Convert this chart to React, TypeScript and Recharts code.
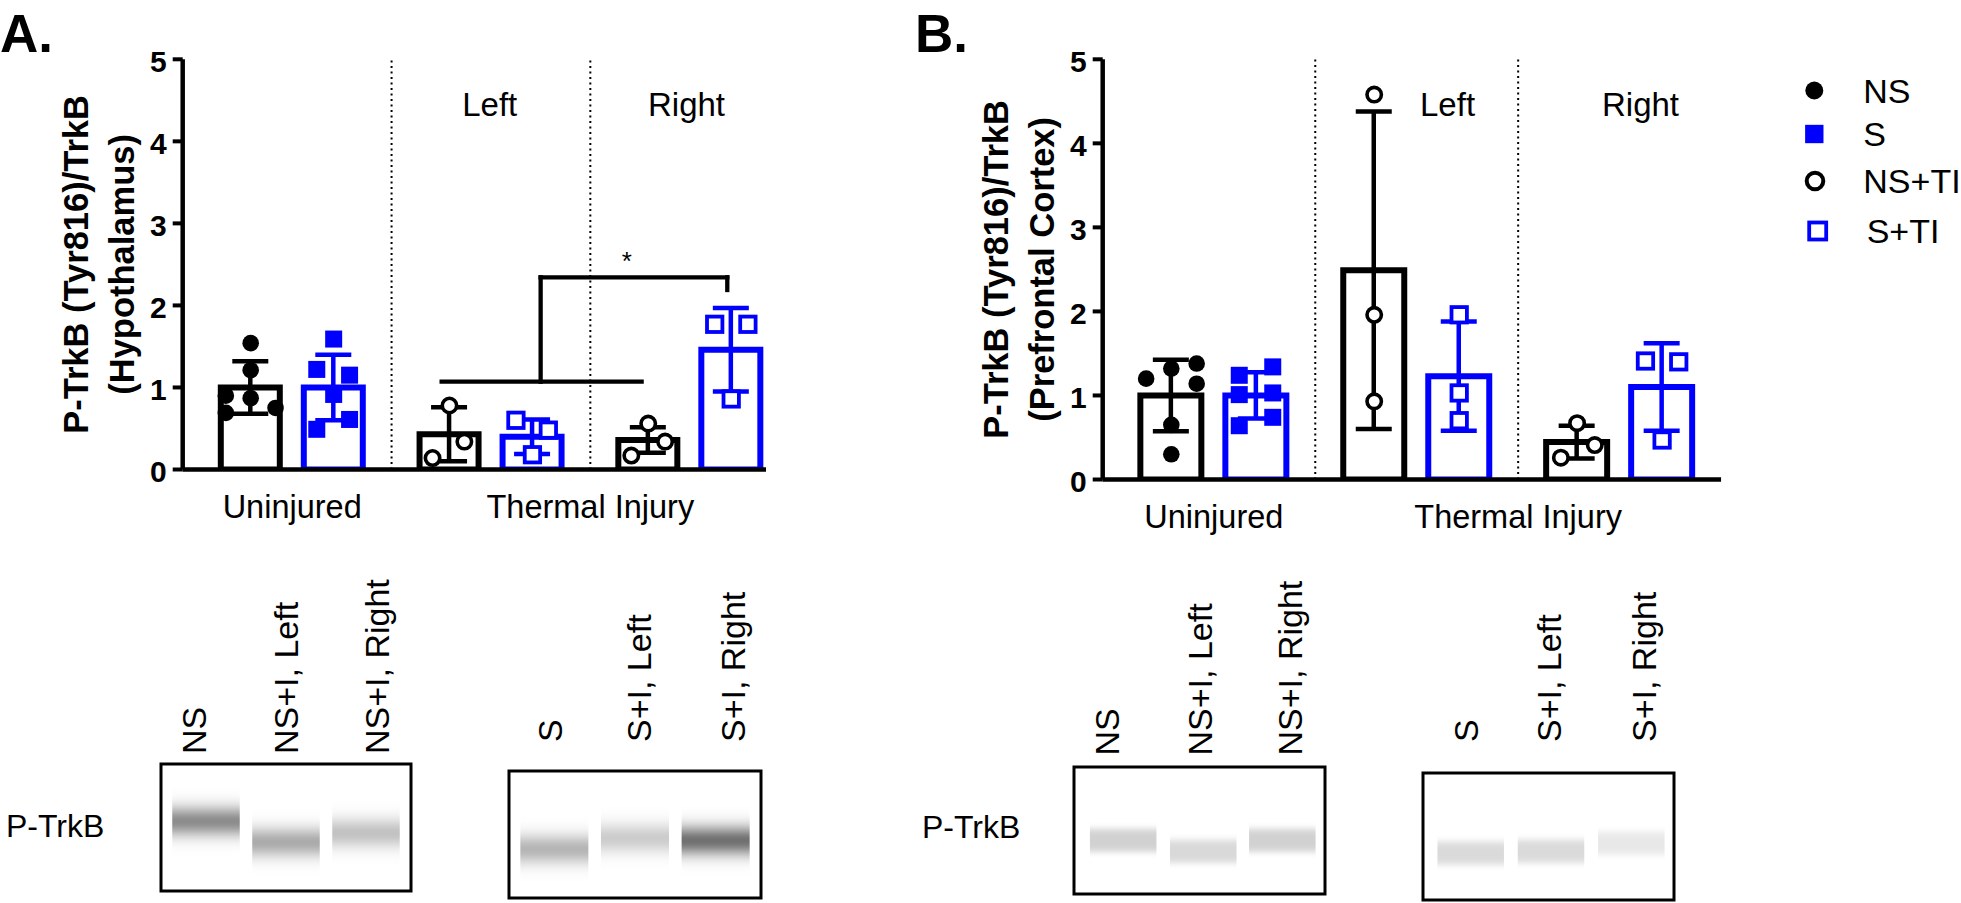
import React from 'react'
import {
  Bar,
  ComposedChart,
  ErrorBar,
  Label,
  ReferenceDot,
  ReferenceLine,
  Scatter,
  XAxis,
  YAxis,
} from 'recharts'

// Two Prism-style bar panels (mean ± SD with individual points) plus the
// capillary-western lane images underneath. Everything is absolutely placed
// on a 1961x903 page.

const FONT = '"Liberation Sans", Arial, Helvetica, sans-serif'
const BLACK = '#000000'
const BLUE = '#0000ff'

// x groups (bar pair i sits at x = i + 0.5)
const GROUPS = ['Uninjured', 'Left', 'Right']
const X_TICKS = [0.5, 2]
const X_TICK_LABELS = ['Uninjured', 'Thermal Injury']
const Y_TICKS = [0, 1, 2, 3, 4, 5]

// A. hypothalamus — black = NS / NS+TI, blue = S / S+TI
const HYPO_NS_MEAN = [1.0, 0.43, 0.36]
const HYPO_NS_SD = [0.32, 0.33, 0.155]
const HYPO_S_MEAN = [1.0, 0.4, 1.46]
const HYPO_S_SD = [0.4, 0.21, 0.51]
const HYPO_NS_POINTS = [[1.54, 1.21, 0.9, 0.87, 0.69, 0.75], [0.78, 0.34, 0.14], [0.56, 0.34, 0.17]]
const HYPO_S_POINTS = [[1.59, 1.22, 1.15, 0.915, 0.49, 0.61], [0.6, 0.48, 0.18], [1.77, 1.77, 0.86]]
// sideways scatter of each point within its bar, in x units
const HYPO_NS_JITTER = [[0, 0, -0.125, 0, -0.125, 0.125], [0, 0.075, -0.085], [0, 0.085, -0.085]]
const HYPO_S_JITTER = [[0, -0.085, 0.08, 0, -0.085, 0.08], [-0.083, 0.08, 0], [-0.083, 0.084, 0]]

// B. prefrontal cortex
const PFC_NS_MEAN = [1.0, 2.49, 0.445]
const PFC_NS_SD = [0.425, 1.89, 0.195]
const PFC_S_MEAN = [1.0, 1.23, 1.1]
const PFC_S_SD = [0.275, 0.65, 0.52]
const PFC_NS_POINTS = [[1.32, 1.2, 1.38, 1.14, 0.65, 0.3], [4.58, 1.96, 0.93], [0.67, 0.41, 0.26]]
const PFC_S_POINTS = [[1.24, 1.34, 1.01, 1.03, 0.64, 0.74], [1.96, 1.03, 0.7], [1.41, 1.4, 0.47]]
const PFC_NS_JITTER = [[0, -0.124, 0.125, 0.125, 0, 0], [0, 0, 0], [0, 0.087, -0.08]]
const PFC_S_JITTER = [[-0.084, 0.081, -0.084, 0.081, -0.084, 0.081], [0, 0, 0], [-0.082, 0.082, 0]]

// significance bracket in A (NS+TI left/right vs S+TI right)
const HYPO_BRACKET = [
  [{ x: 1.252, y: 1.07 }, { x: 2.258, y: 1.07 }],
  [{ x: 1.75, y: 1.07 }, { x: 1.75, y: 2.343 }],
  [{ x: 1.75, y: 2.343 }, { x: 2.689, y: 2.343 }],
  [{ x: 2.689, y: 2.343 }, { x: 2.689, y: 2.188 }],
]

const LEGEND_LABELS = ['NS', 'S', 'NS+TI', 'S+TI']
const LEGEND_KINDS = ['ns', 's', 'nsti', 'sti']

// lane images: label per lane, band centre (fraction of box height), band darkness
const HYPO_BLOT_NS = { lanes: ['NS', 'NS+I, Left', 'NS+I, Right'], bandY: [0.45, 0.62, 0.545], depth: [0.45, 0.33, 0.24] }
const HYPO_BLOT_S = { lanes: ['S', 'S+I, Left', 'S+I, Right'], bandY: [0.62, 0.53, 0.55], depth: [0.29, 0.2, 0.56] }
const PFC_BLOT_NS = { lanes: ['NS', 'NS+I, Left', 'NS+I, Right'], bandY: [0.58, 0.67, 0.58], depth: [0.18, 0.15, 0.18] }
const PFC_BLOT_S = { lanes: ['S', 'S+I, Left', 'S+I, Right'], bandY: [0.635, 0.62, 0.555], depth: [0.145, 0.145, 0.09] }

function Marker({ kind, cx, cy, big = false }: { kind: string; cx: number; cy: number; big?: boolean }) {
  const k = big ? 1.08 : 1
  switch (kind) {
    case 'ns':
      return <circle cx={cx} cy={cy} r={8.3 * k} fill={BLACK} />
    case 's':
      return <rect x={cx - 8.5 * k} y={cy - 8.5 * k} width={17 * k} height={17 * k} fill={BLUE} />
    case 'nsti':
      return <circle cx={cx} cy={cy} r={big ? 8.3 : 7.2} fill="#fff" stroke={BLACK} strokeWidth={big ? 4 : 3.6} />
    default:
      return (
        <rect
          x={cx - (big ? 8.5 : 7.7)}
          y={cy - (big ? 8.5 : 7.7)}
          width={big ? 17 : 15.4}
          height={big ? 17 : 15.4}
          fill="#fff"
          stroke={BLUE}
          strokeWidth={3.8}
        />
      )
  }
}

interface PanelProps {
  left: number
  width: number
  height: number
  plotLeft: number
  plotTop: number
  plotBottom: number
  plotRight: number
  domain: [number, number]
  barSize: number
  barGap: number
  unitPx: number
  nsMean: number[]
  nsSd: number[]
  sMean: number[]
  sSd: number[]
  nsPoints: number[][]
  sPoints: number[][]
  nsJitter: number[][]
  sJitter: number[][]
  yLabel: string[]
  sideLabels: { text: string; x: number; y: number }[]
  bracket?: { x: number; y: number }[][]
  star?: { x: number; y: number }
}

function Panel(p: PanelProps) {
  const rows = GROUPS.map((g, i) => ({
    x: i + 0.5,
    group: g,
    ns: p.nsMean[i],
    nsErr: p.nsSd[i],
    s: p.sMean[i],
    sErr: p.sSd[i],
  }))
  const half = (p.barSize + p.barGap) / 2 / p.unitPx
  const spread = (vals: number[][], jit: number[][], side: number, groups: number[]) =>
    groups.flatMap((g) => vals[g].map((y, j) => ({ x: g + 0.5 + side * half + jit[g][j], y })))

  const nsPts = spread(p.nsPoints, p.nsJitter, -1, [0])
  const sPts = spread(p.sPoints, p.sJitter, 1, [0])
  const nstiPts = spread(p.nsPoints, p.nsJitter, -1, [1, 2])
  const stiPts = spread(p.sPoints, p.sJitter, 1, [1, 2])

  const xAxisH = 60
  const midY = (p.plotTop + p.plotBottom) / 2

  const yTitle = () => (
    <g>
      {p.yLabel.map((line, i) => (
        <text
          key={line}
          transform={`translate(${p.plotLeft - 95.2 + i * 46}, ${midY}) rotate(-90)`}
          textAnchor="middle"
          fontFamily={FONT}
          fontWeight="bold"
          fontSize={34.5}
          fill={BLACK}
        >
          {line}
        </text>
      ))}
    </g>
  )

  return (
    <div style={{ position: 'absolute', left: p.left, top: 0, width: p.width, height: p.height }}>
      <ComposedChart
        width={p.width}
        height={p.height}
        data={rows}
        barGap={p.barGap}
        margin={{ top: p.plotTop, right: p.width - p.plotRight, bottom: p.height - p.plotBottom - xAxisH, left: 2 }}
      >
        <XAxis
          dataKey="x"
          type="number"
          domain={p.domain}
          allowDataOverflow
          ticks={X_TICKS}
          interval={0}
          height={xAxisH}
          tickLine={false}
          tickSize={0}
          axisLine={{ stroke: BLACK, strokeWidth: 4.5 }}
          tick={(t: any) => (
            <text
              x={t.x}
              y={p.plotBottom + 48.8}
              textAnchor="middle"
              fontFamily={FONT}
              fontSize={32.5}
              fill={BLACK}
            >
              {X_TICK_LABELS[X_TICKS.indexOf(t.payload.value)]}
            </text>
          )}
        />
        <XAxis xAxisId="pts" dataKey="x" type="number" domain={p.domain} allowDataOverflow hide />
        <YAxis
          type="number"
          domain={[0, 5]}
          allowDataOverflow
          ticks={Y_TICKS}
          interval={0}
          width={p.plotLeft - 2}
          tickSize={10}
          tickLine={{ stroke: BLACK, strokeWidth: 4 }}
          axisLine={{ stroke: BLACK, strokeWidth: 4.5 }}
          tick={(t: any) => (
            <text
              x={p.plotLeft - 16}
              y={t.y + 12.4}
              textAnchor="end"
              fontFamily={FONT}
              fontWeight="bold"
              fontSize={30}
              fill={BLACK}
            >
              {t.payload.value}
            </text>
          )}
        >
          <Label content={yTitle} />
        </YAxis>

        <ReferenceLine x={1} stroke={BLACK} strokeWidth={2} strokeDasharray="2 3.5" />
        <ReferenceLine x={2} stroke={BLACK} strokeWidth={2} strokeDasharray="2 3.5" />

        <Bar dataKey="ns" barSize={p.barSize} fill="#fff" stroke={BLACK} strokeWidth={6} isAnimationActive={false}>
          <ErrorBar dataKey="nsErr" width={18} stroke={BLACK} strokeWidth={4.5} direction="y" />
        </Bar>
        <Bar dataKey="s" barSize={p.barSize} fill="#fff" stroke={BLUE} strokeWidth={6} isAnimationActive={false}>
          <ErrorBar dataKey="sErr" width={18} stroke={BLUE} strokeWidth={4.5} direction="y" />
        </Bar>

        <Scatter xAxisId="pts" data={nsPts} dataKey="y" isAnimationActive={false}
          shape={(s: any) => <Marker kind="ns" cx={s.cx} cy={s.cy} />} />
        <Scatter xAxisId="pts" data={sPts} dataKey="y" isAnimationActive={false}
          shape={(s: any) => <Marker kind="s" cx={s.cx} cy={s.cy} />} />
        <Scatter xAxisId="pts" data={nstiPts} dataKey="y" isAnimationActive={false}
          shape={(s: any) => <Marker kind="nsti" cx={s.cx} cy={s.cy} />} />
        <Scatter xAxisId="pts" data={stiPts} dataKey="y" isAnimationActive={false}
          shape={(s: any) => <Marker kind="sti" cx={s.cx} cy={s.cy} />} />

        {(p.bracket ?? []).map((seg, i) => (
          <ReferenceLine key={i} segment={seg} stroke={BLACK} strokeWidth={4.3} strokeLinecap="square" />
        ))}

        {p.sideLabels.map((l) => (
          <ReferenceDot
            key={l.text}
            x={l.x}
            y={l.y}
            r={0}
            ifOverflow="visible"
            shape={(d: any) => (
              <text x={d.cx} y={d.cy} textAnchor="middle" fontFamily={FONT} fontSize={33} fill={BLACK}>
                {l.text}
              </text>
            )}
          />
        ))}
        {p.star && (
          <ReferenceDot
            x={p.star.x}
            y={p.star.y}
            r={0}
            ifOverflow="visible"
            shape={(d: any) => (
              <text x={d.cx} y={d.cy} textAnchor="middle" fontFamily={FONT} fontSize={26} fill={BLACK}>
                *
              </text>
            )}
          />
        )}
      </ComposedChart>
    </div>
  )
}

// ---- lane images ----------------------------------------------------------

function bandStops(center: number, sigma: number, depth: number, flat: boolean) {
  const out = []
  for (let i = 0; i <= 60; i++) {
    const t = i / 60
    const d = Math.abs(t - center) / sigma
    const a = depth * Math.exp(-Math.pow(d, flat ? 4 : 2) / 2)
    out.push(<stop key={i} offset={t} stopColor="#000" stopOpacity={a} />)
  }
  return out
}

interface BlotProps {
  id: string
  x: number
  y: number
  w: number
  h: number
  labelBottom: number
  labelX: number[]
  laneX: number[]
  laneW: number
  flat: boolean
  blot: { lanes: string[]; bandY: number[]; depth: number[] }
}

function Blot({ id, x, y, w, h, labelBottom, labelX, laneX, laneW, flat, blot }: BlotProps) {
  const sigma = 0.085
  return (
    <g>
      <defs>
        {blot.bandY.map((c, i) => (
          <linearGradient key={i} id={`${id}-${i}`} x1="0" y1="0" x2="0" y2="1">
            {bandStops(c, sigma, blot.depth[i], flat)}
          </linearGradient>
        ))}
      </defs>
      <rect x={x} y={y} width={w} height={h} fill="#fff" stroke={BLACK} strokeWidth={3} />
      {blot.bandY.map((_, i) => (
        <rect
          key={i}
          x={x + (laneX[i] - laneW / 2) * w}
          y={y + 2}
          width={laneW * w}
          height={h - 4}
          fill={`url(#${id}-${i})`}
        />
      ))}
      {blot.lanes.map((lane, i) => (
        <text
          key={lane}
          transform={`translate(${x + labelX[i] * w + 12.2}, ${labelBottom}) rotate(-90)`}
          fontFamily={FONT}
          fontSize={34}
          fill={BLACK}
        >
          {lane}
        </text>
      ))}
    </g>
  )
}

function Overlay() {
  const legendMarkX = [1814.3, 1814.3, 1815, 1817.7]
  const legendY = [90.5, 134, 181, 231]
  const legendTextX = [1863.3, 1863.3, 1863.3, 1866.7]
  return (
    <svg width={1961} height={903} style={{ position: 'absolute', left: 0, top: 0 }}>
      <text x={0} y={52} fontFamily={FONT} fontWeight="bold" fontSize={53} fill={BLACK}>A.</text>
      <text x={915} y={52} fontFamily={FONT} fontWeight="bold" fontSize={53} fill={BLACK}>B.</text>

      {LEGEND_LABELS.map((lab, i) => (
        <g key={lab}>
          <Marker kind={LEGEND_KINDS[i]} cx={legendMarkX[i]} cy={legendY[i]} big />
          <text x={legendTextX[i]} y={legendY[i] + 12} fontFamily={FONT} fontSize={34} fill={BLACK}>
            {lab}
          </text>
        </g>
      ))}

      <text x={6} y={836.5} fontFamily={FONT} fontSize={32} fill={BLACK}>P-TrkB</text>
      <text x={922} y={838} fontFamily={FONT} fontSize={32} fill={BLACK}>P-TrkB</text>

      <Blot id="a1" x={161} y={764} w={250} h={127} labelBottom={754} labelX={[0.13, 0.5, 0.865]}
        laneX={[0.18, 0.5, 0.82]} laneW={0.27} flat={false} blot={HYPO_BLOT_NS} />
      <Blot id="a2" x={509} y={771} w={252} h={127} labelBottom={742} labelX={[0.163, 0.514, 0.887]}
        laneX={[0.18, 0.5, 0.82]} laneW={0.27} flat={false} blot={HYPO_BLOT_S} />
      <Blot id="b1" x={1074} y={767} w={251} h={127} labelBottom={755.5} labelX={[0.13, 0.5, 0.86]}
        laneX={[0.196, 0.515, 0.83]} laneW={0.265} flat blot={PFC_BLOT_NS} />
      <Blot id="b2" x={1423} y={773} w={251} h={127} labelBottom={742} labelX={[0.17, 0.5, 0.88]}
        laneX={[0.19, 0.51, 0.83]} laneW={0.265} flat blot={PFC_BLOT_S} />
    </svg>
  )
}

export default function App() {
  return (
    <div style={{ position: 'absolute', left: 0, top: 0, width: 1961, height: 903, background: '#fff', overflow: 'hidden' }}>
      <Overlay />
      <Panel
        left={0}
        width={830}
        height={560}
        plotLeft={182.7}
        plotTop={59.3}
        plotBottom={469.5}
        plotRight={766}
        domain={[-0.0508, 2.8838]}
        barSize={59}
        barGap={24}
        unitPx={198.8}
        nsMean={HYPO_NS_MEAN}
        nsSd={HYPO_NS_SD}
        sMean={HYPO_S_MEAN}
        sSd={HYPO_S_SD}
        nsPoints={HYPO_NS_POINTS}
        sPoints={HYPO_S_POINTS}
        nsJitter={HYPO_NS_JITTER}
        sJitter={HYPO_S_JITTER}
        yLabel={['P-TrkB (Tyr816)/TrkB', '(Hypothalamus)']}
        sideLabels={[{ text: 'Left', x: 1.494, y: 4.303 }, { text: 'Right', x: 2.484, y: 4.303 }]}
        bracket={HYPO_BRACKET}
        star={{ x: 2.183, y: 2.432 }}
      />
      <Panel
        left={920}
        width={830}
        height={570}
        plotLeft={182.7}
        plotTop={59.3}
        plotBottom={479.5}
        plotRight={801.05}
        domain={[-0.0476, 3]}
        barSize={61}
        barGap={24}
        unitPx={202.9}
        nsMean={PFC_NS_MEAN}
        nsSd={PFC_NS_SD}
        sMean={PFC_S_MEAN}
        sSd={PFC_S_SD}
        nsPoints={PFC_NS_POINTS}
        sPoints={PFC_S_POINTS}
        nsJitter={PFC_NS_JITTER}
        sJitter={PFC_S_JITTER}
        yLabel={['P-TrkB (Tyr816)/TrkB', '(Prefrontal Cortex)']}
        sideLabels={[{ text: 'Left', x: 1.652, y: 4.325 }, { text: 'Right', x: 2.603, y: 4.325 }]}
      />
    </div>
  )
}
